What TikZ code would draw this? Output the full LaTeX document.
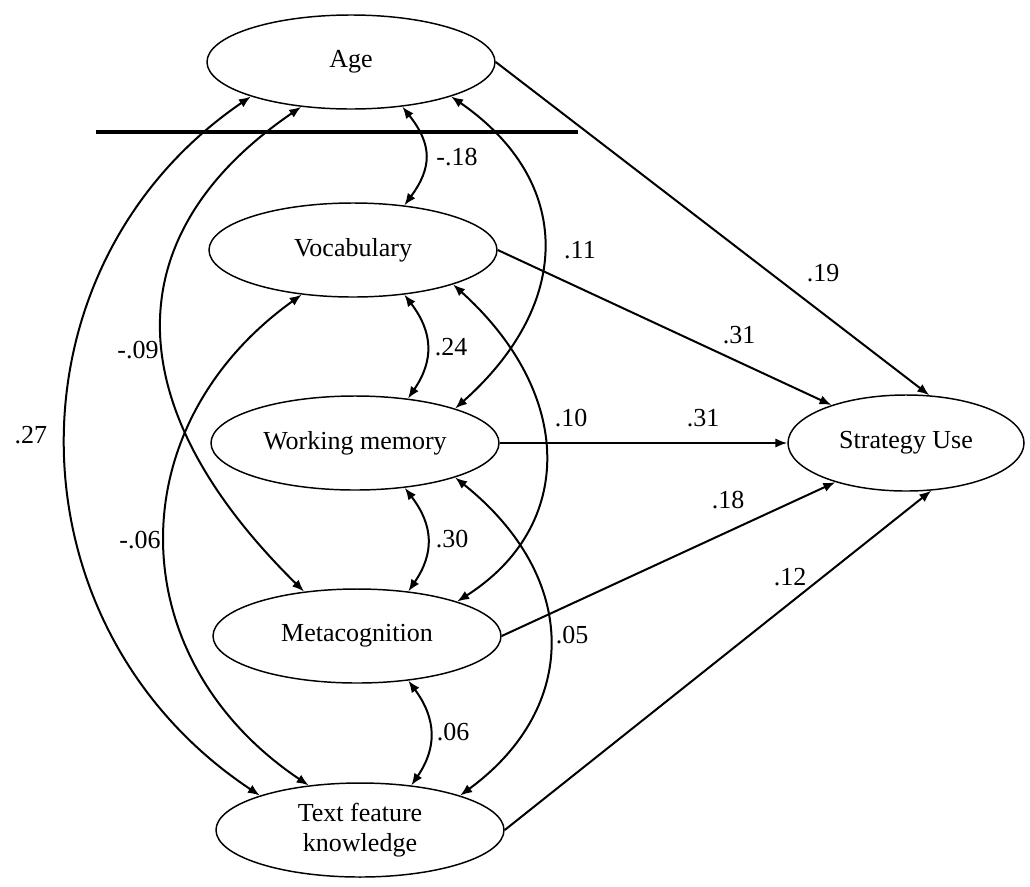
\documentclass[tikz,border=0pt]{standalone}
\usepackage{fontspec}
\setmainfont{Liberation Serif}
\usetikzlibrary{arrows.meta,shapes.geometric}
\begin{document}
\begin{tikzpicture}[x=0.75pt,y=0.75pt,
  latent/.style={ellipse, draw, line width=1.1pt, minimum width=216pt, minimum height=70.5pt,
    inner sep=0pt, align=center, font=\fontsize{19.5}{22.5}\selectfont},
  outcome/.style={latent, minimum width=177pt, minimum height=72pt},
  coef/.style={inner sep=0pt, font=\fontsize{19.5}{22.5}\selectfont},
  effect/.style={line width=1.5pt, -{Latex[length=9pt,width=7pt]}},
  cov/.style={line width=1.5pt, {Latex[length=9pt,width=7pt]}-{Latex[length=9pt,width=7pt]}},
  divider/.style={line width=2.6pt}]
\useasboundingbox (0,0) rectangle (1030,-886);

% latent variables
\node[latent] (age)  at (351,-62)  {Age};
\node[latent] (voc)  at (353,-250) {Vocabulary};
\node[latent] (wm)   at (355,-443) {Working memory};
\node[latent] (meta) at (357,-636) {Metacognition};
\node[latent] (tfk)  at (360,-830) {Text feature\\knowledge};
\node[outcome] (su)  at (906,-443) {Strategy Use};

% divider line
\coordinate (dl) at (96,-132);
\coordinate (dr) at (578,-132);
\draw[divider] (dl) -- (dr);

% direct effects
\draw[effect] (age.0)  -- (su.64);
\draw[effect] (voc.0)  -- (su.153);
\draw[effect] (wm.0)   -- (su.180);
\draw[effect] (meta.0) -- (su.-151);
\draw[effect] (tfk.0)  -- (su.-62);

% short covariances
\draw[cov] (age.-41)  .. controls +(30,-38) and +(28,38) .. (voc.41);
\draw[cov] (voc.-41)  .. controls +(29,-38) and +(26,38) .. (wm.40);
\draw[cov] (wm.-42)   .. controls +(29,-38) and +(26,38) .. (meta.41);
\draw[cov] (meta.-41) .. controls +(28,-38) and +(26,38) .. (tfk.41);

% right long covariances
\draw[cov] (age.-19) .. controls +(123,-85) and +(118,105) .. (wm.19);
\draw[cov] (voc.-19) .. controls +(122,-110) and +(118,75) .. (meta.19);
\draw[cov] (wm.-19)  .. controls +(125,-100) and +(120,88) .. (tfk.19);

% left long covariances
\draw[cov] (age.-138) .. controls +(-186,-127) and +(-189,186) .. (meta.140);
\draw[cov] (voc.-139) .. controls +(-184,-132) and +(-189,127) .. (tfk.139);
\draw[cov] (age.-161) .. controls +(-249,-170) and +(-256,170) .. (tfk.161);

% coefficients
\node[coef] (c19)  at (823,-273) {.19};
\node[coef] (c31a) at (739,-335) {.31};
\node[coef] (c31b) at (703,-418) {.31};
\node[coef] (c18)  at (728,-500) {.18};
\node[coef] (c12)  at (790,-577) {.12};
\node[coef] (cm18) at (457,-157) {-.18};
\node[coef] (c11)  at (580,-250) {.11};
\node[coef] (c24)  at (451,-347) {.24};
\node[coef] (cm09) at (138,-350) {-.09};
\node[coef] (c27)  at (31,-435)  {.27};
\node[coef] (c10)  at (571,-418) {.10};
\node[coef] (cm06) at (140,-540) {-.06};
\node[coef] (c30)  at (452,-539) {.30};
\node[coef] (c05)  at (572,-635) {.05};
\node[coef] (c06)  at (453,-732) {.06};
\end{tikzpicture}
\end{document}
